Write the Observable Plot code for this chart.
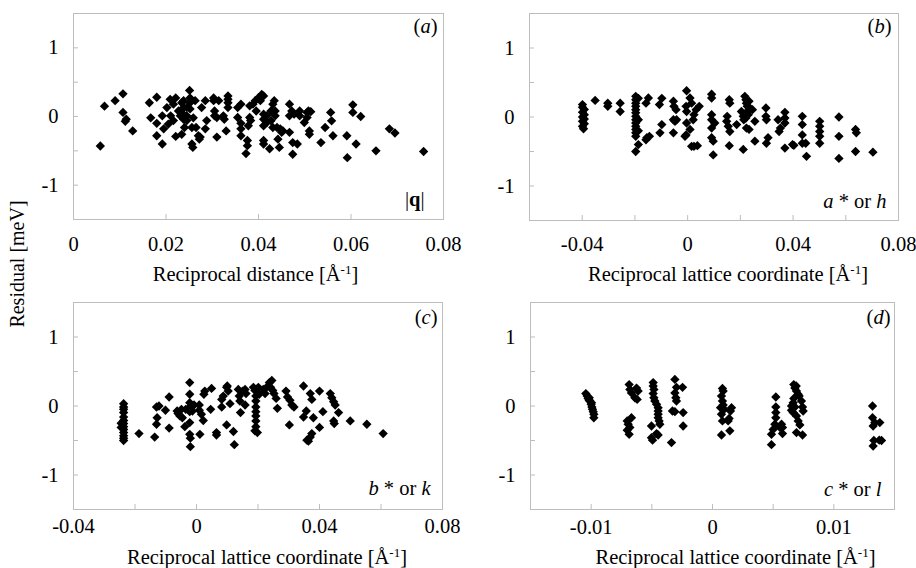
<!DOCTYPE html>
<html>
<head>
<meta charset="utf-8">
<script src="https://cdn.jsdelivr.net/npm/d3@7"></script>
<script src="https://cdn.jsdelivr.net/npm/@observablehq/plot@0.6"></script>
<style>
  html, body { margin: 0; padding: 0; background: white; }
  #wrap { position: relative; width: 916px; height: 568px; background: white; overflow: hidden; }
  #wrap > svg { position: absolute; z-index: 1; }
  #ylab { position: absolute; z-index: 5; left: 17px; top: 264px; transform: translate(-50%, -50%) rotate(-90deg);
          font-family: "Liberation Serif", "Times New Roman", serif; font-size: 20px; white-space: nowrap; color: #000; }
</style>
</head>
<body>
<div id="wrap"><div id="ylab">Residual [meV]</div></div>
<script>
// ---------- data ----------
// (a) |q|
const qDist = [0.0058,0.0067,0.0090,0.0107,0.0107,0.0114,0.0112,0.0128,0.0164,0.0167,0.0180,0.0180,0.0180,0.0192,0.0192,0.0195,0.0202,0.0205,0.0209,0.0210,0.0216,0.0216,0.0221,0.0221,0.0227,0.0231,0.0234,0.0234,0.0238,0.0238,0.0238,0.0238,0.0240,0.0245,0.0245,0.0245,0.0251,0.0252,0.0252,0.0252,0.0256,0.0256,0.0258,0.0259,0.0263,0.0265,0.0270,0.0272,0.0274,0.0277,0.0285,0.0285,0.0288,0.0303,0.0303,0.0305,0.0305,0.0310,0.0310,0.0314,0.0324,0.0326,0.0330,0.0334,0.0334,0.0334,0.0334,0.0355,0.0355,0.0362,0.0362,0.0362,0.0362,0.0376,0.0376,0.0373,0.0381,0.0381,0.0383,0.0378,0.0388,0.0393,0.0395,0.0400,0.0404,0.0407,0.0411,0.0411,0.0411,0.0411,0.0411,0.0411,0.0418,0.0418,0.0424,0.0427,0.0427,0.0431,0.0431,0.0434,0.0436,0.0436,0.0440,0.0442,0.0445,0.0447,0.0450,0.0453,0.0467,0.0467,0.0467,0.0472,0.0474,0.0474,0.0477,0.0484,0.0489,0.0489,0.0499,0.0505,0.0505,0.0508,0.0513,0.0510,0.0510,0.0535,0.0544,0.0556,0.0558,0.0561,0.0591,0.0592,0.0604,0.0604,0.0611,0.0621,0.0654,0.0683,0.0695,0.0757];
const qResid = [-0.43,0.15,0.23,0.33,0.06,-0.04,-0.07,-0.21,0.20,-0.02,0.28,-0.10,-0.28,0.01,-0.40,-0.18,0.13,-0.11,0.25,0.01,0.18,-0.06,0.27,-0.29,0.08,0.01,0.20,-0.26,0.23,0.13,0.03,-0.04,-0.16,0.13,0.01,-0.06,0.38,0.27,0.20,0.11,-0.16,-0.40,-0.45,-0.02,0.23,-0.16,-0.28,-0.33,-0.30,0.13,0.23,-0.18,-0.06,0.27,0.23,0.08,0.01,-0.015,-0.30,0.23,0.01,-0.04,-0.21,0.30,0.25,0.20,0.13,0.13,-0.015,0.18,-0.10,-0.18,-0.28,-0.35,-0.425,-0.54,0.155,-0.015,-0.06,-0.135,0.18,0.23,0.08,0.275,0.23,0.32,0.30,0.034,-0.04,-0.135,-0.35,-0.40,0.01,-0.087,-0.47,0.08,-0.063,0.18,-0.16,0.23,0.01,0.08,-0.16,-0.33,-0.45,-0.18,-0.23,-0.21,0.18,0.01,-0.23,0.08,-0.55,-0.38,0.034,-0.40,0.08,0.01,-0.087,-0.015,0.06,0.08,0.07,-0.21,-0.26,-0.38,-0.16,0.06,-0.063,-0.28,-0.28,-0.60,0.17,0.06,-0.40,0.0,-0.50,-0.18,-0.24,-0.51];

// (b) a* or h
const hCoord = [-0.0399,-0.0399,-0.0392,-0.0399,-0.0392,-0.0399,-0.0392,-0.0399,-0.0392,-0.0399,-0.0395,-0.0351,-0.0303,-0.0303,-0.0256,-0.0256,-0.0197,-0.0197,-0.0197,-0.0197,-0.0197,-0.0197,-0.0197,-0.0197,-0.0197,-0.0197,-0.0197,-0.0197,-0.0197,-0.0197,-0.0187,-0.0187,-0.0187,-0.0187,-0.0155,-0.0145,-0.0158,-0.0158,-0.0149,-0.0107,-0.0098,-0.0105,-0.0098,-0.0054,-0.0052,-0.0044,-0.0054,-0.0048,-0.0042,-0.0054,-0.0004,-0.0006,-0.0004,-0.0004,-0.0006,-0.0010,0.0009,0.0015,0.0009,0.0015,0.0024,0.0037,0.0024,0.0032,0.0044,0.0021,0.0091,0.0091,0.0091,0.0091,0.0091,0.0091,0.0097,0.0097,0.0103,0.0158,0.0160,0.0150,0.0148,0.0154,0.0160,0.0158,0.0186,0.0204,0.0211,0.0211,0.0217,0.0221,0.0223,0.0226,0.0226,0.0230,0.0221,0.0213,0.0233,0.0236,0.0223,0.0233,0.0246,0.0255,0.0255,0.0297,0.0297,0.0299,0.0305,0.0299,0.0343,0.0347,0.0352,0.0369,0.0369,0.0369,0.0369,0.0398,0.0403,0.0435,0.0435,0.0435,0.0435,0.0448,0.0451,0.0501,0.0501,0.0501,0.0501,0.0501,0.0574,0.0574,0.0574,0.0637,0.0640,0.0637,0.0703];
const hResid = [0.18,0.14,0.11,0.07,0.034,0.0,-0.03,-0.063,-0.097,-0.135,-0.17,0.24,0.20,0.155,0.20,0.08,0.30,0.25,0.20,0.155,0.106,0.06,0.01,-0.04,-0.087,-0.135,-0.18,-0.23,-0.28,-0.50,0.27,-0.04,-0.20,-0.40,-0.30,-0.28,-0.33,0.20,0.275,0.18,0.27,-0.23,-0.11,0.23,0.155,0.106,-0.04,-0.063,-0.04,-0.23,0.38,0.155,0.08,-0.087,-0.26,-0.28,0.275,0.20,-0.18,-0.425,-0.425,-0.415,0.034,0.106,0.155,-0.04,0.33,0.275,0.034,-0.04,-0.16,-0.30,-0.35,-0.55,-0.087,0.25,0.20,0.01,-0.063,-0.135,-0.21,-0.415,-0.11,0.08,0.01,-0.47,0.30,0.25,0.20,0.155,0.08,0.034,-0.015,-0.04,0.23,0.13,-0.16,-0.18,0.106,-0.063,-0.35,0.13,0.01,-0.04,-0.30,-0.38,-0.04,-0.21,-0.16,0.068,-0.015,-0.087,-0.45,-0.40,-0.41,0.01,-0.11,-0.26,-0.38,-0.38,-0.57,-0.063,-0.135,-0.21,-0.28,-0.38,0.0,-0.28,-0.60,-0.18,-0.23,-0.50,-0.51];

// (c) b* or k
const kCoord = [-0.0237,-0.0237,-0.0237,-0.0237,-0.0237,-0.0237,-0.0237,-0.0237,-0.0237,-0.0237,-0.0237,-0.0237,-0.0237,-0.0245,-0.0245,-0.0187,-0.0136,-0.0130,-0.0128,-0.0130,-0.0122,-0.0101,-0.0089,-0.0089,-0.0063,-0.0060,-0.0054,-0.0046,-0.0049,-0.0038,-0.0035,-0.0022,-0.0022,-0.0022,-0.0022,-0.0022,-0.0022,-0.0022,-0.0020,-0.0020,-0.0013,-0.0008,0.0009,0.0009,0.0016,0.0022,0.0011,0.0024,0.0027,0.0049,0.0046,0.0065,0.0065,0.0082,0.0082,0.0087,0.0098,0.0100,0.0103,0.0098,0.0109,0.0120,0.0123,0.0136,0.0139,0.0141,0.0143,0.0150,0.0161,0.0158,0.0158,0.0185,0.0190,0.0193,0.0193,0.0193,0.0193,0.0193,0.0193,0.0193,0.0190,0.0201,0.0204,0.0198,0.0217,0.0223,0.0228,0.0237,0.0241,0.0248,0.0245,0.0252,0.0259,0.0263,0.0291,0.0296,0.0302,0.0304,0.0310,0.0317,0.0348,0.0348,0.0357,0.0359,0.0364,0.0370,0.0375,0.0370,0.0375,0.0380,0.0400,0.0400,0.0411,0.0435,0.0440,0.0446,0.0451,0.0446,0.0448,0.0462,0.0500,0.0554,0.0607];
const kResid = [0.034,-0.014,-0.048,-0.096,-0.16,-0.21,-0.255,-0.30,-0.34,-0.385,-0.43,-0.466,-0.50,-0.31,-0.25,-0.40,-0.45,-0.014,-0.17,-0.265,0.0,-0.062,0.13,-0.32,-0.072,-0.11,-0.144,-0.17,-0.048,-0.30,-0.048,0.34,0.17,0.048,-0.014,-0.082,-0.24,-0.41,-0.466,-0.59,-0.072,0.014,0.014,-0.062,-0.12,-0.21,-0.41,0.17,0.216,0.255,-0.048,-0.385,-0.42,-0.014,0.096,0.144,0.27,0.29,0.216,-0.274,0.034,-0.37,-0.56,0.24,0.144,0.072,-0.096,0.216,0.18,0.014,0.24,0.27,0.226,0.144,0.072,-0.014,-0.082,-0.144,-0.216,-0.30,-0.36,0.27,0.17,-0.385,0.24,0.18,0.27,0.34,0.27,0.226,0.37,0.18,0.11,-0.034,0.216,0.13,-0.274,0.082,0.014,-0.014,0.29,-0.16,-0.072,-0.495,-0.51,-0.45,-0.40,0.18,0.096,-0.17,0.216,-0.31,-0.082,0.18,0.12,0.062,0.014,-0.216,-0.255,-0.096,-0.216,-0.265,-0.40];

// (d) c* or l
const lCoord = [-0.01044,-0.01033,-0.01025,-0.01016,-0.01011,-0.0100,-0.00994,-0.00989,-0.00983,-0.00978,-0.00978,-0.00997,-0.01016,-0.00687,-0.00681,-0.00668,-0.00626,-0.00613,-0.00621,-0.0064,-0.00703,-0.00695,-0.00703,-0.00687,-0.00681,-0.00668,-0.00489,-0.00489,-0.00483,-0.00489,-0.00483,-0.00475,-0.00461,-0.00448,-0.00448,-0.00448,-0.00448,-0.0044,-0.00434,-0.00461,-0.00448,-0.00503,-0.00494,-0.00503,-0.00338,-0.0031,-0.00297,-0.0031,-0.00302,-0.00297,-0.0033,-0.0031,-0.00247,-0.00242,-0.00242,0.00082,0.00088,0.00074,0.00082,0.00088,0.00096,0.00066,0.00074,0.00082,0.00074,0.00157,0.00143,0.00148,0.00129,0.00137,0.00522,0.00522,0.00522,0.00522,0.00514,0.0050,0.00486,0.00486,0.00569,0.00577,0.00577,0.00555,0.0067,0.00679,0.00692,0.00706,0.0067,0.00665,0.00679,0.00651,0.00665,0.00692,0.00706,0.0072,0.00692,0.00714,0.00733,0.00742,0.00747,0.00742,0.00651,0.0069,0.01319,0.01319,0.01338,0.01379,0.01324,0.0133,0.01374,0.01393,0.01324];
const lResid = [0.18,0.144,0.11,0.082,0.072,0.024,-0.014,-0.048,-0.082,-0.12,-0.17,0.048,0.12,0.31,0.24,0.19,0.26,0.216,0.096,0.12,-0.216,-0.265,-0.35,-0.41,-0.31,-0.17,0.34,0.29,0.24,0.18,0.12,0.072,0.024,-0.024,-0.072,-0.12,-0.17,-0.216,-0.265,-0.40,-0.42,-0.29,-0.495,-0.46,-0.53,0.385,0.27,0.19,0.12,0.072,-0.072,-0.082,0.27,-0.096,-0.29,0.255,0.216,0.144,0.072,0.014,-0.048,-0.024,-0.12,-0.216,-0.42,-0.024,-0.36,-0.072,-0.216,-0.18,0.13,-0.014,-0.096,-0.17,-0.265,-0.34,-0.41,-0.56,-0.265,-0.31,-0.40,-0.31,0.31,0.26,0.216,0.17,0.11,0.048,-0.014,-0.062,-0.096,-0.144,-0.216,-0.274,-0.385,0.144,0.072,-0.014,-0.072,-0.42,0.0,0.29,0.0,-0.17,-0.24,-0.24,-0.29,-0.50,-0.495,-0.50,-0.58];

// tick values and labels
const yLabelTicks = [-1, 0, 1];
const yMinorTicks = [-1, -0.5, 0, 0.5, 1];
const aLabelTicks = [0, 0.02, 0.04, 0.06, 0.08];
const latticeLabelTicks = [-0.04, 0, 0.04, 0.08];
const latticeMinorTicks = [-0.04, -0.02, 0, 0.02, 0.04, 0.06];
const lLabelTicks = [-0.01, 0, 0.01];
const lMinorTicks = [-0.01, -0.005, 0, 0.005, 0.01];
const titleDist = "Reciprocal distance [Å⁻¹]";
const titleLattice = "Reciprocal lattice coordinate [Å⁻¹]";

// ---------- drawing ----------
const FRAME = "#bdbdbd";
const FONT = "'Liberation Serif', 'Times New Roman', serif";

function panel(o) {
  const data = o.xs.map((x, i) => ({x, y: o.ys[i]}));
  return Plot.plot({
    width: o.width, height: o.height,
    marginLeft: o.m[0], marginRight: o.m[1], marginTop: o.m[2], marginBottom: o.m[3],
    style: {fontFamily: FONT, fontSize: "20.5px", background: "transparent", color: "black", overflow: "visible"},
    x: {domain: o.xDomain, label: null},
    y: {domain: [-1.5, 1.5], label: null},
    marks: [
      Plot.frame({stroke: FRAME}),
      Plot.axisY({ticks: yMinorTicks, tickSize: 5, dx: 5, stroke: FRAME, tickFormat: () => "", label: null}),
      Plot.axisY({ticks: yLabelTicks, tickSize: 0, tickPadding: 15, tickFormat: d => String(d), label: null}),
      Plot.axisX({ticks: o.xMinor, tickSize: 5, dy: -5, stroke: FRAME, tickFormat: () => "", label: null}),
      Plot.axisX({ticks: o.xLabels, tickSize: 0, tickPadding: o.labelGap, tickFormat: d => String(d), label: null}),
      Plot.text([o.title], {frameAnchor: "bottom", dy: o.titleGap, dx: o.titleDx, lineAnchor: "top", text: d => d}),
      Plot.dot(data, {x: "x", y: "y", symbol: "diamond2", r: 4.2, fill: "black", stroke: "none"}),
      Plot.text([o.tag], {frameAnchor: "top-right", textAnchor: "end", lineAnchor: "top", dx: o.tagD[0], dy: o.tagD[1], text: d => d}),
      Plot.text([o.corner], {frameAnchor: "bottom-right", textAnchor: "end", lineAnchor: "top", dx: o.cornerD[0], dy: o.cornerD[1], text: d => d})
    ]
  });
}

function richify(svg) {
  svg.querySelectorAll("text").forEach(t => {
    const s = t.textContent;
    let m;
    if ((m = s.match(/^\(([a-d])\)$/))) {
      t.innerHTML = `(<tspan font-style="italic">${m[1]}</tspan>)`;
    } else if ((m = s.match(/^([a-z]) \* or ([a-z])$/))) {
      t.innerHTML = `<tspan font-style="italic">${m[1]}</tspan> * or <tspan font-style="italic">${m[2]}</tspan>`;
    } else if (s === "|q|") {
      t.innerHTML = `|<tspan font-weight="bold">q</tspan>|`;
    } else if (s.includes("Å⁻¹")) {
      const [pre, post] = s.split("Å⁻¹");
      t.innerHTML = `${pre}Å<tspan dy="-7" font-size="13">-1</tspan><tspan dy="7">${post}</tspan>`;
    }
  });
}

const wrap = document.getElementById("wrap");
const specs = [
  {left: 0, top: 0, width: 458, height: 284, m: [73, 15, 13, 65], xs: qDist, ys: qResid, xDomain: [0, 0.08],
   xLabels: aLabelTicks, xMinor: aLabelTicks, labelGap: 17, title: titleDist, titleGap: 47, titleDx: -3,
   tag: "(a)", tagD: [-6, 5], corner: "|q|", cornerD: [-19, -28]},
  {left: 456, top: 0, width: 460, height: 284, m: [73, 18, 13, 64], xs: hCoord, ys: hResid, xDomain: [-0.06, 0.08],
   xLabels: latticeLabelTicks, xMinor: latticeMinorTicks, labelGap: 16, title: titleLattice, titleGap: 46, titleDx: 14,
   tag: "(b)", tagD: [-7, 5], corner: "a * or h", cornerD: [-12, -27]},
  {left: 0, top: 284, width: 458, height: 284, m: [73, 16, 18, 59], xs: kCoord, ys: kResid, xDomain: [-0.04, 0.08],
   xLabels: latticeLabelTicks, xMinor: latticeMinorTicks, labelGap: 9, title: titleLattice, titleGap: 40, titleDx: 9,
   tag: "(c)", tagD: [-5, 7], corner: "b * or k", cornerD: [-12, -29]},
  {left: 456, top: 284, width: 460, height: 284, m: [74, 22, 18, 59], xs: lCoord, ys: lResid, xDomain: [-0.015, 0.015],
   xLabels: lLabelTicks, xMinor: lMinorTicks, labelGap: 10, title: titleLattice, titleGap: 40, titleDx: 23,
   tag: "(d)", tagD: [-4, 7], corner: "c * or l", cornerD: [-13, -28]}
];
for (const s of specs) {
  const svg = panel(s);
  svg.style.left = s.left + "px";
  svg.style.top = s.top + "px";
  richify(svg);
  wrap.appendChild(svg);
}
</script>
</body>
</html>
